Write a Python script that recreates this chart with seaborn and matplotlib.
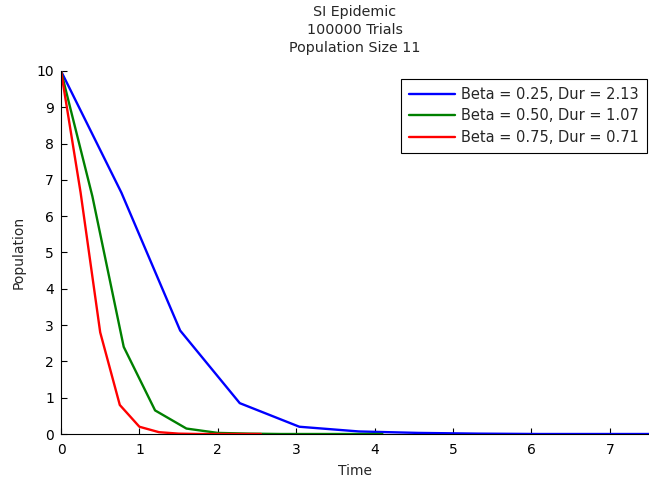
import matplotlib
matplotlib.use("Agg")
import matplotlib.pyplot as plt
import seaborn as sns
import pandas as pd

sns.set_style("white")
plt.rcParams['font.family'] = ['DejaVu Sans']

blue_t = [0, 0.77, 1.52, 2.28, 3.04, 3.80, 4.56, 5.32, 6.08, 6.84, 7.6]
blue_v = [10, 6.65, 2.85, 0.85, 0.2, 0.07, 0.03, 0.01, 0.0, 0.0, 0.0]
green_t = [0, 0.4, 0.8, 1.2, 1.6, 2.0, 2.4, 2.8, 3.2, 3.6, 4.1]
green_v = [10, 6.55, 2.4, 0.65, 0.15, 0.03, 0.01, 0.0, 0.0, 0.0, 0.0]
red_t = [0, 0.25, 0.5, 0.75, 1.0, 1.25, 1.5, 1.75, 2.0, 2.25, 2.55]
red_v = [10, 6.65, 2.8, 0.8, 0.2, 0.05, 0.01, 0.0, 0.0, 0.0, 0.0]
labels = ["Beta = 0.25, Dur = 2.13", "Beta = 0.50, Dur = 1.07", "Beta = 0.75, Dur = 0.71"]
colors = ["#0000ff", "#008000", "#ff0000"]

df = pd.concat([
    pd.DataFrame({"Time": blue_t, "Population": blue_v, "series": labels[0]}),
    pd.DataFrame({"Time": green_t, "Population": green_v, "series": labels[1]}),
    pd.DataFrame({"Time": red_t, "Population": red_v, "series": labels[2]}),
])

fig = plt.figure(figsize=(6.49, 4.79), dpi=100)
ax = fig.add_axes([61/649, 45/479, 588/649, 363/479])
sns.lineplot(data=df, x="Time", y="Population", hue="series", palette=colors,
             hue_order=labels, linewidth=1.7, ax=ax, sort=False, estimator=None)

ax.set_xlim(0, 7.5)
ax.set_ylim(0, 10)
ax.set_xticks(range(0, 8))
ax.set_yticks(range(0, 11))
for s in ["top", "right"]:
    ax.spines[s].set_visible(False)
for s in ["left", "bottom"]:
    ax.spines[s].set_color("black")
    ax.spines[s].set_linewidth(0.8)
ax.tick_params(direction="in", length=4, width=0.8, colors="black", labelsize=10,
               bottom=True, left=True)
ax.tick_params(axis="x", pad=6.5)
ax.tick_params(axis="y", pad=5)
ax.set_xlabel("Time", fontsize=10, labelpad=5)
ax.set_ylabel("Population", fontsize=10, labelpad=7.5)
ax.set_title("SI Epidemic\n100000 Trials\nPopulation Size 11", fontsize=10.3,
             linespacing=1.35, pad=14)

leg = ax.legend(loc="upper right", bbox_to_anchor=(1 - 2/588, 1 - 8/363), fontsize=10.5,
                frameon=True, fancybox=False, edgecolor="black", framealpha=1,
                handlelength=3.2, handletextpad=0.4, borderpad=0.55, labelspacing=0.44,
                borderaxespad=0)
leg.get_frame().set_linewidth(0.8)
for line in leg.get_lines():
    line.set_linewidth(1.7)

fig.savefig("out.png", dpi=100)
